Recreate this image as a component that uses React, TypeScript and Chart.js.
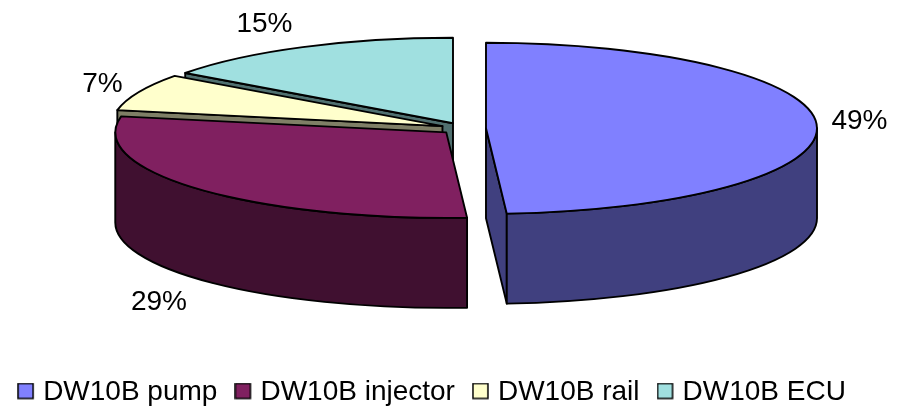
import React, { useEffect, useRef } from "react";
import { Chart, registerables } from "chart.js";

Chart.register(...registerables);

const categories = ["DW10B pump", "DW10B injector", "DW10B rail", "DW10B ECU"];
const shares = [49, 29, 7, 15];
const faceColors = ["#8080FF", "#802060", "#FFFFCC", "#A0E0E0"];
const wallColors = ["#40407F", "#401030", "#7F7F66", "#507070"];

const FONT = '"Liberation Sans", Arial, sans-serif';

// Projection of the flat pie onto the tilted 3D view, in canvas pixels.
const view = { cx: 463.3, cy: 128.5, a: 331, b: 85.5, depth: 90, explode: 22.7 };
const labelAnchors = [
  { x: 859.5, y: 121.5 },
  { x: 159, y: 302.5 },
  { x: 102.5, y: 84.5 },
  { x: 264.5, y: 24.5 },
];
// Slices painted from the back of the pie to the front.
const paintOrder = [3, 2, 1, 0];

// Legend key: the canvas is wider and taller than the square so that the
// legend's centring places the square further left and slightly higher.
function legendSwatch(color: string) {
  const c = document.createElement("canvas");
  c.width = 21;
  c.height = 19;
  const g = c.getContext("2d")!;
  g.fillStyle = color;
  g.fillRect(1, 1, 15, 15);
  g.strokeStyle = "#000";
  g.lineWidth = 1.5;
  g.strokeRect(1, 1, 15, 15);
  return c;
}

const pie3d = {
  id: "pie3d",
  beforeDatasetDraw(chart: any, args: any) {
    const ctx = chart.ctx as CanvasRenderingContext2D;
    const arcs = args.meta.data;
    const { cx, cy, a, b, depth, explode } = view;

    const slice = (i: number) => {
      const arc = arcs[i];
      const mid = (arc.startAngle + arc.endAngle) / 2;
      return {
        arc,
        t0: arc.startAngle,
        t1: arc.endAngle,
        x: cx + Math.cos(mid) * explode,
        y: cy + (Math.sin(mid) * explode * b) / a,
      };
    };
    const rim = (s: any, t: number, dy = 0) => ({
      x: s.x + a * Math.cos(t),
      y: s.y + b * Math.sin(t) + dy,
    });

    ctx.save();
    ctx.lineWidth = 1.9;
    ctx.lineJoin = "round";
    ctx.strokeStyle = "#000";

    const paintPath = (fill: string | null) => {
      if (fill) {
        ctx.fillStyle = fill;
        ctx.fill();
      }
      ctx.stroke();
    };

    // Side walls: the radial cuts facing the viewer, then the visible rim.
    for (const i of paintOrder) {
      const s = slice(i);
      const cuts: number[] = [];
      if (-Math.cos(s.t0) > 1e-6) cuts.push(s.t0);
      if (Math.cos(s.t1) > 1e-6) cuts.push(s.t1);
      for (const t of cuts) {
        const p = rim(s, t);
        ctx.beginPath();
        ctx.moveTo(s.x, s.y);
        ctx.lineTo(p.x, p.y);
        ctx.lineTo(p.x, p.y + depth);
        ctx.lineTo(s.x, s.y + depth);
        ctx.closePath();
        paintPath(wallColors[i]);
      }
      const from = Math.max(s.t0, 0);
      const to = Math.min(s.t1, Math.PI);
      if (to > from) {
        ctx.beginPath();
        ctx.ellipse(s.x, s.y, a, b, 0, from, to);
        ctx.ellipse(s.x, s.y + depth, a, b, 0, to, from, true);
        ctx.closePath();
        paintPath(wallColors[i]);
      }
    }

    // Top faces: the library's arcs squashed into the ellipse, then outlined.
    for (const i of paintOrder) {
      const s = slice(i);
      const R = s.arc.outerRadius;
      ctx.save();
      ctx.translate(s.x, s.y);
      ctx.scale(a / R, b / R);
      ctx.translate(-s.arc.x, -s.arc.y);
      s.arc.draw(ctx);
      ctx.restore();

      const p = rim(s, s.t0);
      ctx.beginPath();
      ctx.moveTo(s.x, s.y);
      ctx.lineTo(p.x, p.y);
      ctx.ellipse(s.x, s.y, a, b, 0, s.t0, s.t1);
      ctx.closePath();
      paintPath(null);
    }

    // Percentage labels.
    ctx.fillStyle = "#000";
    ctx.font = `28px ${FONT}`;
    ctx.textAlign = "center";
    ctx.textBaseline = "middle";
    shares.forEach((v, i) => {
      ctx.fillText(`${v}%`, labelAnchors[i].x, labelAnchors[i].y);
    });
    ctx.restore();
    return false;
  },
};

export default function App() {
  const ref = useRef<HTMLCanvasElement>(null);

  useEffect(() => {
    const chart = new Chart(ref.current!, {
      type: "pie",
      data: {
        labels: categories,
        datasets: [
          {
            data: shares,
            backgroundColor: faceColors,
            borderWidth: 0,
            clip: false,
          },
        ],
      },
      plugins: [pie3d],
      options: {
        responsive: false,
        animation: false,
        layout: { padding: { right: 29, bottom: -10 } },
        plugins: {
          tooltip: { enabled: false },
          legend: {
            position: "bottom",
            labels: {
              color: "#000",
              font: { family: FONT, size: 28 },
              usePointStyle: true,
              pointStyleWidth: 3,
              boxHeight: 17,
              padding: 26,
              generateLabels: () =>
                categories.map((text, i) => ({
                  text,
                  index: i,
                  datasetIndex: 0,
                  fontColor: "#000",
                  pointStyle: legendSwatch(faceColors[i]),
                  hidden: false,
                })),
            },
          },
        },
      },
    } as any);
    return () => chart.destroy();
  }, []);

  return (
    <div style={{ position: "fixed", left: 0, top: 0, width: 901, height: 406, background: "#fff" }}>
      <canvas ref={ref} width={901} height={406} style={{ display: "block" }} />
    </div>
  );
}
